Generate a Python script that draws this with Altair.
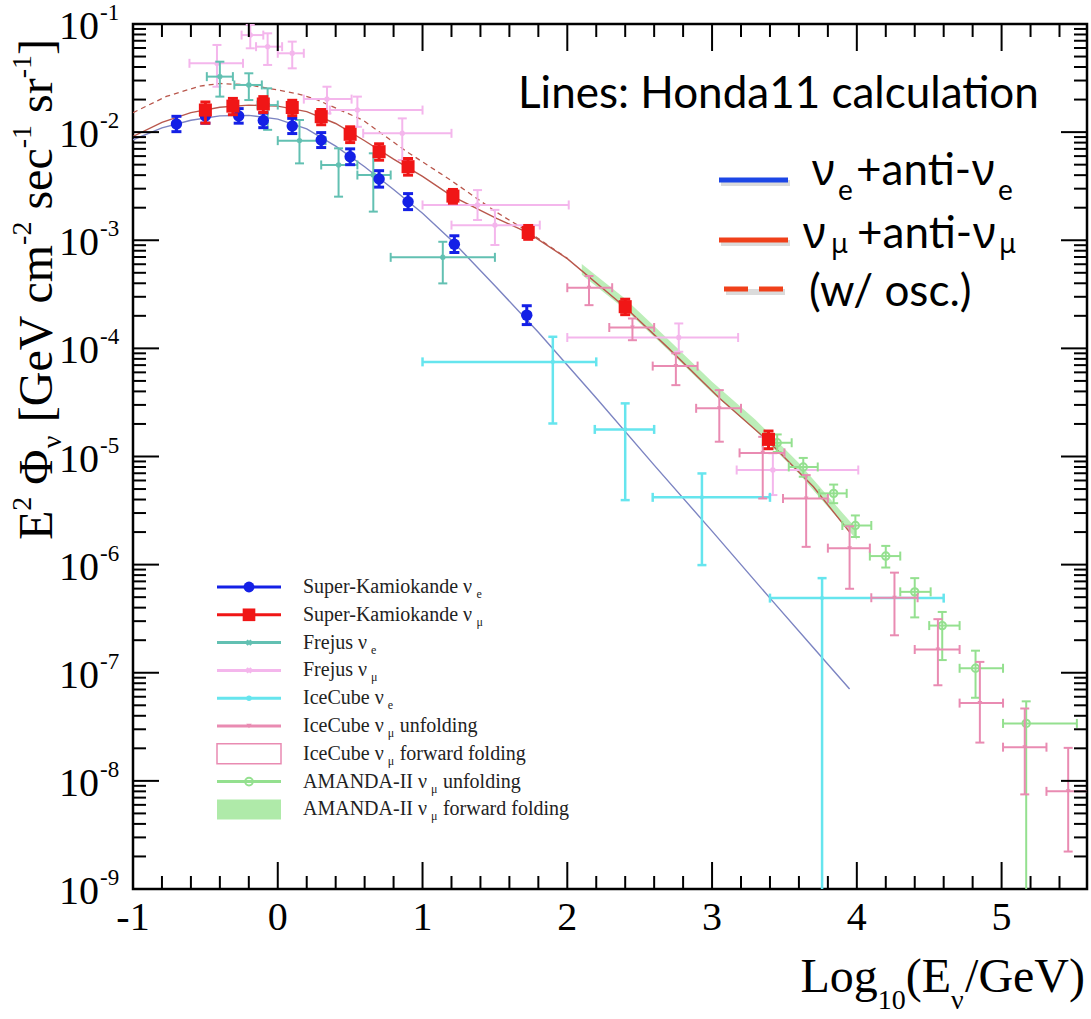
import altair as alt
import pandas as pd

# ---------------------------------------------------------------- data
# Super-Kamiokande nu_e (blue circles)
ske_x  = [-0.70, -0.50, -0.27, -0.10, 0.10, 0.30, 0.50, 0.70, 0.90, 1.22, 1.72]
ske_y  = [0.0119, 0.0141, 0.0141, 0.0128, 0.0114, 0.00845, 0.00592, 0.00368, 0.00227, 0.00092, 0.000203]
ske_lo = [0.0101, 0.0121, 0.0121, 0.0110, 0.0097, 0.0072, 0.0050, 0.0031, 0.00192, 0.00077, 0.000166]
ske_hi = [0.0140, 0.0164, 0.0165, 0.0150, 0.0134, 0.0099, 0.0070, 0.0044, 0.00270, 0.00110, 0.000248]

# Super-Kamiokande nu_mu (red squares)
skm_x  = [-0.50, -0.31, -0.10, 0.10, 0.30, 0.50, 0.70, 0.90, 1.21, 1.73, 2.40, 3.39]
skm_y  = [0.0160, 0.0174, 0.0182, 0.0169, 0.0139, 0.00955, 0.00659, 0.00479, 0.00256, 0.00118, 0.000243, 0.0000144]
skm_lo = [0.0121, 0.0145, 0.0152, 0.0142, 0.0117, 0.0080, 0.0055, 0.0040, 0.00220, 0.00102, 0.000205, 0.0000118]
skm_hi = [0.0190, 0.0205, 0.0213, 0.0197, 0.0162, 0.0112, 0.0078, 0.0057, 0.00295, 0.00137, 0.000285, 0.0000172]

# Frejus nu_e
fre_x   = [-0.40, -0.20, -0.07, 0.15, 0.42, 0.66, 1.14]
fre_xlo = [-0.49, -0.30, -0.14, 0.00, 0.30, 0.55, 0.78]
fre_xhi = [-0.31, -0.11, 0.00, 0.33, 0.55, 0.78, 1.50]
fre_y   = [0.0326, 0.0273, 0.0178, 0.00834, 0.00497, 0.00401, 0.000695]
fre_ylo = [0.0213, 0.0198, 0.0105, 0.00514, 0.00253, 0.00184, 0.000399]
fre_yhi = [0.0448, 0.0350, 0.0254, 0.01294, 0.00708, 0.00637, 0.000968]

# Frejus nu_mu
frm_x   = [-0.42, -0.19, -0.07, 0.10, 0.34, 0.55, 0.86, 1.38, 1.50, 2.77, 3.42]
frm_xlo = [-0.61, -0.25, -0.15, 0.00, 0.18, 0.36, 0.59, 1.00, 1.20, 2.00, 3.17]
frm_xhi = [-0.24, -0.10, 0.03, 0.18, 0.51, 1.00, 1.20, 2.01, 1.81, 3.18, 4.01]
frm_y   = [0.0433, 0.0790, 0.0617, 0.0536, 0.0202, 0.0160, 0.00975, 0.00212, 0.00138, 0.000126, 0.0000075]
frm_ylo = [0.0263, 0.0596, 0.0418, 0.0389, 0.0149, 0.0112, 0.00552, 0.00154, 0.000904, 0.0000931, 0.0000044]
frm_yhi = [0.0640, 0.0980, 0.0820, 0.0687, 0.0263, 0.0213, 0.0134, 0.00291, 0.00191, 0.000170, 0.0000107]

# IceCube nu_e
ice_x   = [1.90, 2.40, 2.93, 3.76]
ice_xlo = [1.00, 2.19, 2.59, 3.40]
ice_xhi = [2.20, 2.60, 3.40, 4.60]
ice_y   = [7.5e-5, 1.78e-5, 4.19e-6, 4.9e-7]
ice_ylo = [2.02e-5, 3.95e-6, 9.9e-7, 1e-10]
ice_yhi = [1.28e-4, 3.10e-5, 6.97e-6, 7.5e-7]

# IceCube nu_mu unfolding
icm_x   = [2.15, 2.45, 2.75, 3.05, 3.35, 3.65, 3.95, 4.26, 4.56, 4.85, 5.16, 5.46]
icm_xlo = [2.00, 2.29, 2.59, 2.89, 3.19, 3.49, 3.80, 4.10, 4.40, 4.71, 5.01, 5.31]
icm_xhi = [2.31, 2.60, 2.90, 3.20, 3.50, 3.80, 4.09, 4.42, 4.71, 5.01, 5.31, 5.62]
icm_y   = [3.64e-4, 1.56e-4, 6.86e-5, 2.79e-5, 1.08e-5, 4.09e-6, 1.42e-6, 4.94e-7, 1.64e-7, 5.24e-8, 2.05e-8, 8.0e-9]
icm_ylo = [2.51e-4, 1.19e-4, 4.57e-5, 1.37e-5, 4.09e-6, 1.46e-6, 5.98e-7, 2.22e-7, 7.66e-8, 2.26e-8, 7.5e-9, 2.22e-9]
icm_yhi = [4.67e-4, 1.89e-4, 9.00e-5, 4.11e-5, 1.52e-5, 6.73e-6, 2.26e-6, 8.43e-7, 3.13e-7, 1.26e-7, 4.67e-8, 2.02e-8]

# AMANDA-II nu_mu unfolding
ama_x   = [3.45, 3.63, 3.84, 3.99, 4.20, 4.40, 4.59, 4.82, 5.17]
ama_xlo = [3.35, 3.53, 3.74, 3.90, 4.09, 4.30, 4.50, 4.71, 5.01]
ama_xhi = [3.55, 3.73, 3.93, 4.10, 4.30, 4.51, 4.71, 5.01, 5.52]
ama_y   = [1.34e-5, 8.0e-6, 4.56e-6, 2.3e-6, 1.2e-6, 5.6e-7, 2.73e-7, 1.1e-7, 3.4e-8]
ama_ylo = [1.10e-5, 6.5e-6, 3.70e-6, 1.8e-6, 9.4e-7, 3.25e-7, 1.31e-7, 5.87e-8, 1e-10]
ama_yhi = [1.60e-5, 9.7e-6, 5.50e-6, 2.85e-6, 1.49e-6, 7.5e-7, 3.65e-7, 1.6e-7, 5.44e-8]

# AMANDA-II forward folding band
band_x  = [2.10, 2.40, 2.70, 3.00, 3.30, 3.60, 3.90, 4.00]
band_lo = [4.79e-4, 2.29e-4, 9.55e-5, 3.89e-5, 1.74e-5, 6.92e-6, 2.40e-6, 1.70e-6]
band_hi = [6.03e-4, 2.88e-4, 1.20e-4, 4.90e-5, 2.19e-5, 8.71e-6, 3.02e-6, 2.14e-6]

# Honda11 calculation lines
hb_x = [-1.0, -0.8, -0.6, -0.4, -0.2, 0.0, 0.2, 0.4, 0.6, 0.8, 1.0, 1.2, 1.5, 1.8, 2.2, 2.6, 3.0, 3.4, 3.7, 3.95]
hb_y = [0.0085, 0.01096, 0.01288, 0.01413, 0.01429, 0.01318, 0.01072, 0.00741, 0.00479, 0.00295,
        0.00178, 0.00100, 0.00038, 0.000141, 3.47e-5, 8.32e-6, 2.04e-6, 4.9e-7, 1.7e-7, 7.08e-8]
hr_x = [-1.0, -0.8, -0.6, -0.4, -0.2, 0.0, 0.2, 0.4, 0.6, 0.8, 1.0, 1.2, 1.5, 1.73, 2.0, 2.4, 2.7, 3.05, 3.39, 3.7, 3.95]
hr_y = [0.00912, 0.0123, 0.01514, 0.01698, 0.01778, 0.01738, 0.01549, 0.01202, 0.00832, 0.00562, 0.00389,
        0.00257, 0.00162, 0.00117, 0.000676, 0.00024, 0.0001, 3.47e-5, 1.38e-5, 5.25e-6, 2.0e-6]
hd_x = [-1.0, -0.77, -0.54, -0.4, -0.2, 0.0, 0.15, 0.27, 0.59, 0.89, 1.19, 1.51, 1.73, 2.0]
hd_y = [0.01514, 0.02138, 0.02661, 0.02818, 0.02735, 0.02455, 0.02239, 0.01995, 0.01288, 0.00661,
        0.00363, 0.00182, 0.00120, 0.000680]

# axes
x_major = [-1, 0, 1, 2, 3, 4, 5]
y_exps = [-9, -8, -7, -6, -5, -4, -3, -2, -1]

# legend text
leg_main = ["Super-Kamiokande ν", "Super-Kamiokande ν", "Frejus ν", "Frejus ν", "IceCube ν",
            "IceCube ν", "IceCube ν", "AMANDA-II ν", "AMANDA-II ν"]
leg_sub = ["e", "μ", "e", "μ", "e", "μ", "μ", "μ", "μ"]
leg_tail = ["", "", "", "", "", "unfolding", "forward folding", "unfolding", "forward folding"]

# ---------------------------------------------------------------- style
BLUE, RED = "#1420e6", "#f01616"
TEAL, LPINK, CYAN = "#62c0b2", "#f4b6ec", "#66e5ee"
ROSE, GREEN, BAND = "#e98bb2", "#94e08f", "#a6e8a0"
HBLUE, HRED = "#7c84c2", "#b9574c"
SERIF = "Liberation Serif"

W, H = 954, 865
XS = alt.Scale(domain=[-1.0, 5.59], nice=False, zero=False)
YS = alt.Scale(type="log", domain=[1e-9, 1e-1], nice=False)


def X(f):
    return alt.X(f, type="quantitative", scale=XS, axis=None)


def Y(f):
    return alt.Y(f, type="quantitative", scale=YS, axis=None)


def PX(f):
    return alt.X(f, type="quantitative", scale=None, axis=None)


def PY(f):
    return alt.Y(f, type="quantitative", scale=None, axis=None)


def err_layers(df, color, sw=2.0, cap=9, hbar=True):
    b = alt.Chart(df)
    L = [
        b.mark_rule(color=color, strokeWidth=sw, clip=True).encode(x=X("x"), y=Y("ylo"), y2="yhi"),
        b.mark_tick(color=color, orient="horizontal", size=cap, thickness=sw, opacity=1, clip=True).encode(x=X("x"), y=Y("ylo")),
        b.mark_tick(color=color, orient="horizontal", size=cap, thickness=sw, opacity=1, clip=True).encode(x=X("x"), y=Y("yhi")),
    ]
    if hbar:
        L += [
            b.mark_rule(color=color, strokeWidth=sw, clip=True).encode(x=X("xlo"), x2="xhi", y=Y("y")),
            b.mark_tick(color=color, orient="vertical", size=cap, thickness=sw, opacity=1, clip=True).encode(x=X("xlo"), y=Y("y")),
            b.mark_tick(color=color, orient="vertical", size=cap, thickness=sw, opacity=1, clip=True).encode(x=X("xhi"), y=Y("y")),
        ]
    return L


def mk(x, y, lo, hi, xlo=None, xhi=None):
    d = {"x": x, "y": y, "ylo": lo, "yhi": hi}
    if xlo is not None:
        d["xlo"] = xlo
        d["xhi"] = xhi
    return pd.DataFrame(d)


layers = []

# band
band_df = pd.DataFrame({"x": band_x, "lo": band_lo, "hi": band_hi})
layers.append(alt.Chart(band_df).mark_area(color=BAND, opacity=0.75, clip=True).encode(x=X("x"), y=Y("lo"), y2="hi"))

# Honda lines
layers.append(alt.Chart(pd.DataFrame({"x": hd_x, "y": hd_y})).mark_line(color=HRED, strokeWidth=1.3, strokeDash=[5, 4], clip=True).encode(x=X("x"), y=Y("y")))
layers.append(alt.Chart(pd.DataFrame({"x": hr_x, "y": hr_y})).mark_line(color=HRED, strokeWidth=1.4, clip=True).encode(x=X("x"), y=Y("y")))
layers.append(alt.Chart(pd.DataFrame({"x": hb_x, "y": hb_y})).mark_line(color=HBLUE, strokeWidth=1.4, clip=True).encode(x=X("x"), y=Y("y")))

# other experiments
fre_df = mk(fre_x, fre_y, fre_ylo, fre_yhi, fre_xlo, fre_xhi)
frm_df = mk(frm_x, frm_y, frm_ylo, frm_yhi, frm_xlo, frm_xhi)
ice_df = mk(ice_x, ice_y, ice_ylo, ice_yhi, ice_xlo, ice_xhi)
icm_df = mk(icm_x, icm_y, icm_ylo, icm_yhi, icm_xlo, icm_xhi)
ama_df = mk(ama_x, ama_y, ama_ylo, ama_yhi, ama_xlo, ama_xhi)

layers += err_layers(frm_df, LPINK)
layers.append(alt.Chart(frm_df).mark_point(shape="cross", angle=45, filled=True, size=30, color=LPINK, opacity=1, clip=True).encode(x=X("x"), y=Y("y")))
layers += err_layers(fre_df, TEAL)
layers.append(alt.Chart(fre_df).mark_point(shape="cross", angle=45, filled=True, size=30, color=TEAL, opacity=1, clip=True).encode(x=X("x"), y=Y("y")))
layers += err_layers(ice_df, CYAN, sw=2.5)
layers.append(alt.Chart(ice_df).mark_point(shape="circle", filled=True, size=18, color=CYAN, opacity=1, clip=True).encode(x=X("x"), y=Y("y")))
layers += err_layers(ama_df, GREEN)
layers.append(alt.Chart(ama_df).mark_point(shape="circle", filled=False, size=55, strokeWidth=2, color=GREEN, opacity=1, clip=True).encode(x=X("x"), y=Y("y")))
layers += err_layers(icm_df, ROSE)
layers.append(alt.Chart(icm_df).mark_point(shape="triangle-down", filled=True, size=22, color=ROSE, opacity=1, clip=True).encode(x=X("x"), y=Y("y")))

# Super-Kamiokande
ske_df = mk(ske_x, ske_y, ske_lo, ske_hi)
skm_df = mk(skm_x, skm_y, skm_lo, skm_hi)
layers += err_layers(ske_df, BLUE, sw=3, cap=10, hbar=False)
layers.append(alt.Chart(ske_df).mark_point(shape="circle", filled=True, size=130, color=BLUE, opacity=1).encode(x=X("x"), y=Y("y")))
layers += err_layers(skm_df, RED, sw=3, cap=10, hbar=False)
layers.append(alt.Chart(skm_df).mark_point(shape="square", filled=True, size=170, color=RED, opacity=1).encode(x=X("x"), y=Y("y")))

# ---------------------------------------------------------------- frame ticks
x_minor = [v / 10 for v in range(-8, 56, 2) if v % 10 != 0]
y_major = [10.0 ** e for e in y_exps]
y_minor = [k * 10.0 ** e for e in y_exps[:-1] for k in range(2, 10)]

xmaj_df = pd.DataFrame({"v": x_major})
xmin_df = pd.DataFrame({"v": x_minor})
ymaj_df = pd.DataFrame({"v": y_major})
ymin_df = pd.DataFrame({"v": y_minor})
TK = dict(color="black", strokeWidth=2)
for df, ln in ((xmaj_df, 27), (xmin_df, 13)):
    layers.append(alt.Chart(df).mark_rule(**TK).encode(x=X("v"), y=alt.value(H), y2=alt.value(H - ln)))
    layers.append(alt.Chart(df).mark_rule(**TK).encode(x=X("v"), y=alt.value(0), y2=alt.value(ln)))
for df, ln in ((ymaj_df, 26), (ymin_df, 13)):
    layers.append(alt.Chart(df).mark_rule(**TK).encode(y=Y("v"), x=alt.value(0), x2=alt.value(ln)))
    layers.append(alt.Chart(df).mark_rule(**TK).encode(y=Y("v"), x=alt.value(W), x2=alt.value(W - ln)))

# tick labels
xlab_df = pd.DataFrame({"v": x_major, "t": [str(v) for v in x_major]})
layers.append(alt.Chart(xlab_df).mark_text(font=SERIF, fontSize=40, align="center", baseline="alphabetic", color="black")
              .encode(x=X("v"), y=alt.value(H + 41), text="t"))
ylab_df = pd.DataFrame({"v": y_major, "b": ["10"] * len(y_major), "e": [str(e) for e in y_exps]})
layers.append(alt.Chart(ylab_df).mark_text(font=SERIF, fontSize=40, align="right", baseline="alphabetic", dy=15, color="black")
              .encode(x=alt.value(-34), y=Y("v"), text="b"))
layers.append(alt.Chart(ylab_df).mark_text(font=SERIF, fontSize=23, align="left", baseline="alphabetic", dy=-4, color="black")
              .encode(x=alt.value(-33), y=Y("v"), text="e"))

# ---------------------------------------------------------------- text helpers
TIMES = {" ": 250, "-": 333, "+": 564, "(": 333, ")": 333, "/": 278, "[": 333, "]": 333, ".": 250,
         "A": 722, "C": 667, "D": 722, "E": 611, "F": 556, "G": 722, "I": 333, "K": 722, "L": 611,
         "M": 889, "N": 722, "S": 556, "V": 722, "a": 444, "b": 500, "c": 444, "d": 500, "e": 444,
         "f": 333, "g": 500, "i": 278, "j": 278, "k": 500, "l": 278, "m": 778, "n": 500, "o": 500,
         "p": 500, "r": 333, "s": 389, "t": 278, "u": 500, "w": 722, "ν": 500, "μ": 520, "Φ": 760}


def tw(s, fs):
    return sum(TIMES.get(c, 500) for c in s) * fs / 1000.0


def text_layer(px, py, t, fs, font=SERIF, align="left", angle=0, color="black"):
    return alt.Chart(pd.DataFrame({"t": [t]})).mark_text(
        font=font, fontSize=fs, align=align, baseline="alphabetic", angle=angle, color=color
    ).encode(x=alt.value(px), y=alt.value(py), text="t")


# x-axis title  Log10(Eν/GeV)
XT_MAIN, XT_SUB = 48, 28
xt_pieces = [("Log", "m"), ("10", "s"), ("(E", "m"), ("ν", "s"), ("/GeV)", "m")]
total = sum(tw(t, XT_MAIN if k == "m" else XT_SUB) for t, k in xt_pieces)
cx = 952 - total
for t, k in xt_pieces:
    fs = XT_MAIN if k == "m" else XT_SUB
    layers.append(text_layer(cx, 968 if k == "m" else 985, t, fs))
    cx += tw(t, fs)

# y-axis title  E² Φν [GeV cm-2 sec-1 sr-1]  (rotated)
YT_MAIN, YT_SUP = 48, 28
yt_pieces = [("E", "m", 0), ("2", "p", 0), ("Φ", "m", 1), ("ν", "s", 0), ("[GeV", "m", 1), ("cm", "m", 1),
             ("-2", "p", 0), ("sec", "m", 1), ("-1", "p", 0), ("sr", "m", 1), ("-1", "p", 0), ("]", "m", 0)]
cy = 516
BX = -81
for t, k, lead in yt_pieces:
    fs = YT_MAIN if k == "m" else YT_SUP
    cy -= tw(" " * lead, YT_MAIN)
    bx = BX if k == "m" else (BX - 21 if k == "p" else BX + 9)
    layers.append(text_layer(bx, cy, t, fs, angle=270))
    cy -= tw(t, fs)

# ---------------------------------------------------------------- in-plot legend (bottom left)
leg_y = [563, 590.8, 618.6, 646.4, 674.2, 702, 729.8, 757.6, 785.4]
leg_col = [BLUE, RED, TEAL, LPINK, CYAN, ROSE, ROSE, GREEN, GREEN]
LX0, LX1, LXC, LTX = 84, 148, 116, 170
line_rows = [0, 1, 2, 3, 4, 5, 7]
leg_line_df = pd.DataFrame({"x0": [LX0] * 7, "x1": [LX1] * 7, "y": [leg_y[i] for i in line_rows],
                            "c": [leg_col[i] for i in line_rows]})
layers.append(alt.Chart(leg_line_df).mark_rule(strokeWidth=3).encode(
    x=PX("x0"), x2="x1", y=PY("y"), color=alt.Color("c:N", scale=None)))


def leg_pt(i, **kw):
    return alt.Chart(pd.DataFrame({"x": [LXC], "y": [leg_y[i]]})).mark_point(opacity=1, **kw).encode(x=PX("x"), y=PY("y"))


layers.append(leg_pt(0, shape="circle", filled=True, size=120, color=BLUE))
layers.append(leg_pt(1, shape="square", filled=True, size=160, color=RED))
layers.append(leg_pt(2, shape="cross", angle=45, filled=True, size=40, color=TEAL))
layers.append(leg_pt(3, shape="cross", angle=45, filled=True, size=40, color=LPINK))
layers.append(leg_pt(4, shape="circle", filled=True, size=30, color=CYAN))
layers.append(leg_pt(5, shape="triangle-down", filled=True, size=30, color=ROSE))
layers.append(leg_pt(7, shape="circle", filled=False, size=60, strokeWidth=2, color=GREEN))
layers.append(alt.Chart(pd.DataFrame({"x0": [LX0], "x1": [LX1], "y0": [leg_y[6] - 10], "y1": [leg_y[6] + 10]}))
              .mark_rect(fill="white", stroke=ROSE, strokeWidth=1.5).encode(x=PX("x0"), x2="x1", y=PY("y0"), y2="y1"))
layers.append(alt.Chart(pd.DataFrame({"x0": [LX0], "x1": [LX1], "y0": [leg_y[8] - 10], "y1": [leg_y[8] + 10]}))
              .mark_rect(fill=BAND, opacity=0.9).encode(x=PX("x0"), x2="x1", y=PY("y0"), y2="y1"))

LF, LS = 20, 12
LCOL = "#222222"
for i in range(9):
    layers.append(text_layer(LTX, leg_y[i] + 6, leg_main[i], LF, color=LCOL))
    sx = LTX + tw(leg_main[i], LF) + 3
    layers.append(text_layer(sx, leg_y[i] + 11, leg_sub[i], LS, color=LCOL))
    if leg_tail[i]:
        layers.append(text_layer(sx + 12, leg_y[i] + 6, leg_tail[i], LF, color=LCOL))

# ---------------------------------------------------------------- Honda annotation (top right)
SANS, GRK = "Lato", "Noto Sans"
anno_lines = pd.DataFrame({"x0": [586, 586], "x1": [655, 655], "y": [156, 216], "c": ["#1c46e6", "#f0401a"]})
shadow = pd.DataFrame({"x0": [588, 588, 593], "x1": [657, 657, 652], "y": [159, 219, 268]})
layers.append(alt.Chart(shadow).mark_rule(strokeWidth=6, color="#888888", opacity=0.3).encode(x=PX("x0"), x2="x1", y=PY("y")))
layers.append(alt.Chart(anno_lines).mark_rule(strokeWidth=5).encode(x=PX("x0"), x2="x1", y=PY("y"), color=alt.Color("c:N", scale=None)))
layers.append(alt.Chart(pd.DataFrame({"x0": [591], "x1": [650], "y": [265]})).mark_rule(
    strokeWidth=5, color="#f0401a", strokeDash=[24, 11]).encode(x=PX("x0"), x2="x1", y=PY("y")))

layers.append(text_layer(385, 84, "Lines: Honda11 calculation", 44, SANS))
layers.append(text_layer(679, 161, "ν", 44, GRK))
layers.append(text_layer(705, 176, "e", 28, SANS))
layers.append(text_layer(723, 161, "+anti-", 44, SANS))
layers.append(text_layer(839, 161, "ν", 44, GRK))
layers.append(text_layer(865, 176, "e", 28, SANS))
layers.append(text_layer(670, 224, "ν", 44, GRK))
layers.append(text_layer(698, 229, "μ", 27, GRK))
layers.append(text_layer(724, 224, "+anti-", 44, SANS))
layers.append(text_layer(840, 224, "ν", 44, GRK))
layers.append(text_layer(866, 229, "μ", 27, GRK))
layers.append(text_layer(676, 282, "(w/ osc.)", 44, SANS))

chart = alt.layer(*layers).properties(
    width=W, height=H,
    autosize=alt.AutoSizeParams(type="none"),
    padding={"left": 133, "top": 24, "right": 4, "bottom": 130},
    background="white",
).configure_view(stroke="black", strokeWidth=2.5)

chart.save("out.html", embed_options={"renderer": "svg", "actions": False})
